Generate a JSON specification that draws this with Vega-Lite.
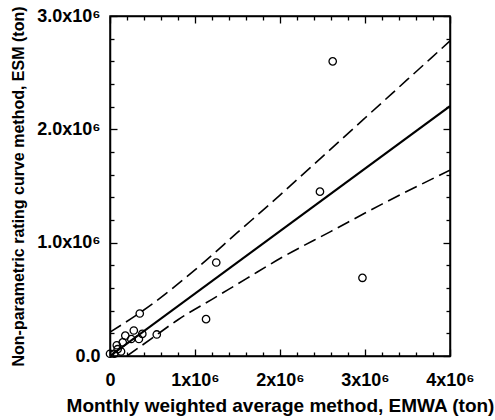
{
  "$schema": "https://vega.github.io/schema/vega-lite/v6.json",
  "width": 340,
  "height": 340,
  "autosize": "none",
  "padding": {"left": 110, "top": 16, "right": 45, "bottom": 64},
  "background": "white",
  "config": {
    "font": "Liberation Sans",
    "view": {"stroke": "black", "strokeWidth": 1.5},
    "axis": {
      "domainColor": "black",
      "domainWidth": 1.5,
      "tickColor": "black",
      "tickWidth": 1.3,
      "grid": false,
      "labelColor": "black",
      "labelFont": "Liberation Sans",
      "labelFontWeight": "bold",
      "labelFontSize": 18,
      "titleColor": "black",
      "titleFont": "Liberation Sans",
      "titleFontWeight": "bold"
    }
  },
  "datasets": {
    "points": [
      {"emwa": 0, "esm": 20000},
      {"emwa": 50000, "esm": 20000},
      {"emwa": 90000, "esm": 60000},
      {"emwa": 80000, "esm": 95000},
      {"emwa": 130000, "esm": 40000},
      {"emwa": 150000, "esm": 120000},
      {"emwa": 180000, "esm": 180000},
      {"emwa": 250000, "esm": 150000},
      {"emwa": 280000, "esm": 225000},
      {"emwa": 340000, "esm": 150000},
      {"emwa": 380000, "esm": 195000},
      {"emwa": 350000, "esm": 375000},
      {"emwa": 550000, "esm": 190000},
      {"emwa": 1130000, "esm": 325000},
      {"emwa": 1250000, "esm": 825000},
      {"emwa": 2470000, "esm": 1450000},
      {"emwa": 2620000, "esm": 2600000},
      {"emwa": 2970000, "esm": 690000}
    ],
    "fit": [
      {"emwa": 0, "esm": 0},
      {"emwa": 4000000, "esm": 2205000}
    ],
    "bands": [
      {"band": "upper", "emwa": 0, "esm": 210000},
      {"band": "upper", "emwa": 500000, "esm": 460000},
      {"band": "upper", "emwa": 1000000, "esm": 760000},
      {"band": "upper", "emwa": 1500000, "esm": 1090000},
      {"band": "upper", "emwa": 2000000, "esm": 1420000},
      {"band": "upper", "emwa": 2500000, "esm": 1760000},
      {"band": "upper", "emwa": 3000000, "esm": 2100000},
      {"band": "upper", "emwa": 3500000, "esm": 2440000},
      {"band": "upper", "emwa": 4000000, "esm": 2780000},
      {"band": "lower", "emwa": 200000, "esm": 0},
      {"band": "lower", "emwa": 500000, "esm": 160000},
      {"band": "lower", "emwa": 800000, "esm": 320000},
      {"band": "lower", "emwa": 1200000, "esm": 500000},
      {"band": "lower", "emwa": 1600000, "esm": 680000},
      {"band": "lower", "emwa": 2000000, "esm": 860000},
      {"band": "lower", "emwa": 2600000, "esm": 1100000},
      {"band": "lower", "emwa": 3200000, "esm": 1340000},
      {"band": "lower", "emwa": 4000000, "esm": 1640000}
    ]
  },
  "layer": [
    {
      "data": {"name": "fit"},
      "mark": {"type": "line", "color": "black", "strokeWidth": 2.2, "clip": true},
      "encoding": {
        "x": {
          "field": "emwa", "type": "quantitative",
          "scale": {"domain": [0, 4000000], "nice": false, "zero": false},
          "axis": {
            "orient": "bottom",
            "values": [0, 200000, 400000, 600000, 800000, 1000000, 1200000, 1400000, 1600000, 1800000, 2000000, 2200000, 2400000, 2600000, 2800000, 3000000, 3200000, 3400000, 3600000, 3800000, 4000000],
            "labelExpr": "datum.value % 1000000 === 0 ? (datum.value === 0 ? '0' : (datum.value / 1000000) + 'x10⁶') : ''",
            "tickSize": {"condition": {"test": "datum.value % 1000000 === 0", "value": -7}, "value": -4},
            "labelPadding": 22,
            "labelFlush": false,
            "labelOverlap": false,
            "title": "Monthly weighted average method, EMWA (ton)",
            "titleFontSize": 19,
            "titlePadding": 4
          }
        },
        "y": {
          "field": "esm", "type": "quantitative",
          "scale": {"domain": [0, 3000000], "nice": false, "zero": false},
          "axis": {
            "orient": "left",
            "values": [0, 200000, 400000, 600000, 800000, 1000000, 1200000, 1400000, 1600000, 1800000, 2000000, 2200000, 2400000, 2600000, 2800000, 3000000],
            "labelExpr": "datum.value % 1000000 === 0 ? (datum.value === 0 ? '0.0' : (datum.value / 1000000) + '.0x10⁶') : ''",
            "tickSize": {"condition": {"test": "datum.value % 1000000 === 0", "value": -7}, "value": -4},
            "labelPadding": 17,
            "labelFlush": false,
            "labelOverlap": false,
            "title": "Non-parametric rating curve method, ESM (ton)",
            "titleFontSize": 16,
            "titlePadding": 10
          }
        }
      }
    },
    {
      "data": {"name": "bands"},
      "mark": {"type": "line", "color": "black", "strokeWidth": 1.6, "strokeDash": [13, 6], "interpolate": "monotone", "clip": true},
      "encoding": {
        "x": {
          "field": "emwa", "type": "quantitative",
          "axis": {
            "orient": "top",
            "values": [0, 200000, 400000, 600000, 800000, 1000000, 1200000, 1400000, 1600000, 1800000, 2000000, 2200000, 2400000, 2600000, 2800000, 3000000, 3200000, 3400000, 3600000, 3800000, 4000000],
            "labels": false,
            "title": null,
            "tickSize": {"condition": {"test": "datum.value % 1000000 === 0", "value": -7}, "value": -4}
          }
        },
        "y": {
          "field": "esm", "type": "quantitative",
          "axis": {
            "orient": "right",
            "values": [0, 200000, 400000, 600000, 800000, 1000000, 1200000, 1400000, 1600000, 1800000, 2000000, 2200000, 2400000, 2600000, 2800000, 3000000],
            "labels": false,
            "title": null,
            "tickSize": {"condition": {"test": "datum.value % 1000000 === 0", "value": -7}, "value": -4}
          }
        },
        "detail": {"field": "band", "type": "nominal"}
      }
    },
    {
      "data": {"name": "points"},
      "mark": {"type": "point", "shape": "circle", "filled": false, "color": "black", "size": 55, "strokeWidth": 1.3, "opacity": 1},
      "encoding": {
        "x": {"field": "emwa", "type": "quantitative", "axis": null},
        "y": {"field": "esm", "type": "quantitative", "axis": null}
      }
    }
  ],
  "resolve": {"axis": {"x": "independent", "y": "independent"}}
}
